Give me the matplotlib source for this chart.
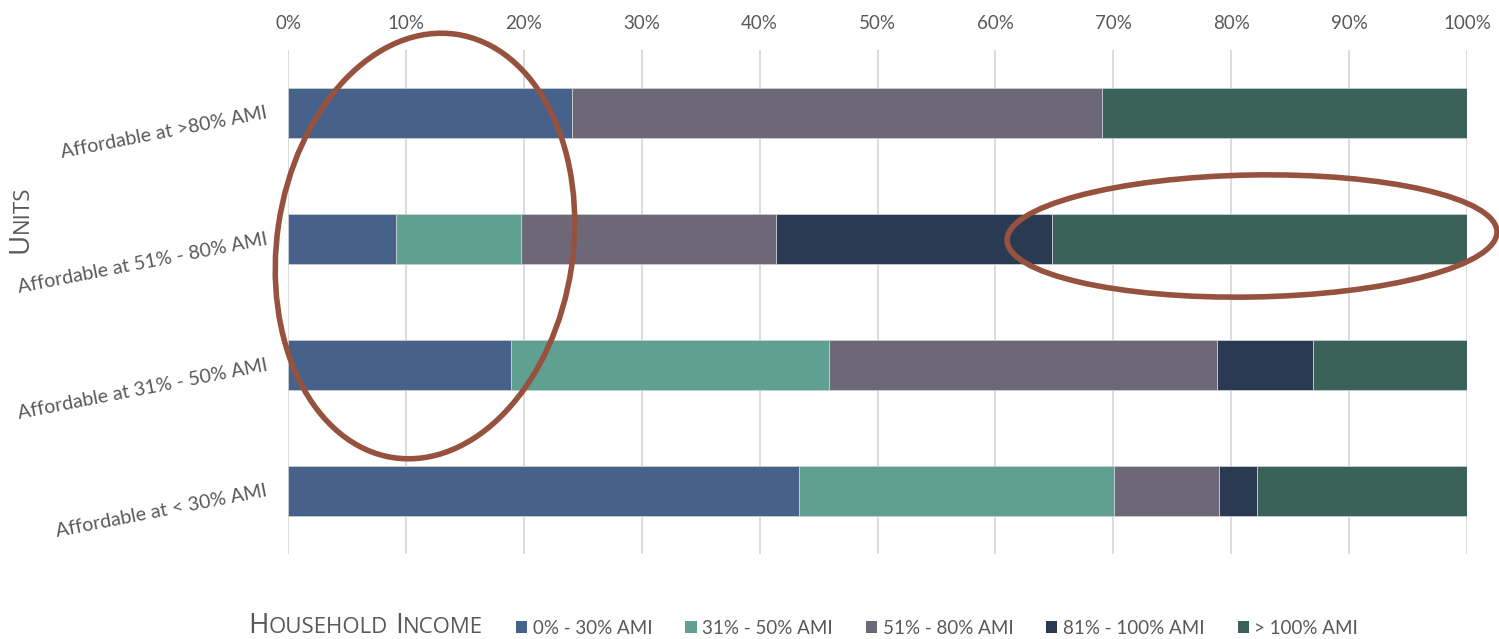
import matplotlib
matplotlib.use("Agg")
import matplotlib.pyplot as plt
from matplotlib.patches import Ellipse, Patch
from matplotlib.transforms import IdentityTransform
import numpy as np

plt.rcParams['font.family'] = ['Lato', 'DejaVu Sans']

# rows bottom -> top
categories = ["Affordable at < 30% AMI", "Affordable at 31% - 50% AMI",
              "Affordable at 51% - 80% AMI", "Affordable at >80% AMI"]
series_names = ["0% - 30% AMI", "31% - 50% AMI", "51% - 80% AMI",
                "81% - 100% AMI", "> 100% AMI"]
inc_0_30 = [43.3, 18.9, 9.2, 24.1]
inc_31_50 = [26.8, 27.0, 10.6, 0.0]
inc_51_80 = [8.9, 32.9, 21.6, 44.9]
inc_81_100 = [3.2, 8.1, 23.4, 0.0]
inc_100_plus = [17.8, 13.1, 35.2, 31.0]
xticks = [0, 10, 20, 30, 40, 50, 60, 70, 80, 90, 100]

colors = ["#46628A", "#5FA093", "#6C6878", "#2A3A53", "#3A6258"]
txt_col = "#595959"
ring_col = "#96523F"

W, H = 1499, 639
fig = plt.figure(figsize=(W/100, H/100), dpi=100)
ax = fig.add_axes([288/W, 1-554/H, (1467-288)/W, (554-50)/H])

y = np.arange(len(categories))
left = np.zeros(len(categories))
for vals, c, name in zip([inc_0_30, inc_31_50, inc_51_80, inc_81_100, inc_100_plus], colors, series_names):
    vals = np.array(vals)
    ax.barh(y, vals, left=left, height=0.4, color=c, edgecolor="#c9cdd3", linewidth=0.6, zorder=3, label=name)
    left += vals

ax.set_xlim(0, 100)
ax.set_ylim(-0.5, 3.5)
ax.set_xticks(xticks)
ax.set_xticklabels([f"{t}%" for t in xticks])
ax.xaxis.tick_top()
ax.set_yticks(y)
ax.set_yticklabels(categories, rotation=11, rotation_mode="anchor", ha="right", va="center")
ax.tick_params(axis="x", length=0, pad=13, labelsize=13.5, colors=txt_col)
ax.tick_params(axis="y", length=0, pad=15, labelsize=14, colors=txt_col)
ax.grid(axis="x", color="#D9D9D9", linewidth=1.3, zorder=0)
for s in ax.spines.values():
    s.set_visible(False)

# red rings drawn on top, in pixel units
ov = fig.add_axes([0, 0, 1, 1])
ov.set_xlim(0, W)
ov.set_ylim(H, 0)
ov.axis("off")
ov.patch.set_alpha(0)
ov.add_patch(Ellipse((425, 246), 296, 428, angle=8.5, fill=False, edgecolor=ring_col, linewidth=4))
ov.add_patch(Ellipse((1252, 236), 490, 122, angle=-1, fill=False, edgecolor=ring_col, linewidth=4))


def small_caps(x, y, parts, rotation=0, gap=8):
    r = fig.canvas.get_renderer()
    for txt, size in parts:
        if txt == " ":
            if rotation == 0:
                x += gap
            else:
                y += gap
            continue
        t = fig.text(x, y, txt, fontsize=size, rotation=rotation, color=txt_col,
                     ha="left", va="baseline", rotation_mode="anchor",
                     family=["Open Sans", "DejaVu Sans"],
                     transform=IdentityTransform())
        bb = t.get_window_extent(r)
        if rotation == 0:
            x += bb.width
        else:
            y += bb.height


small_caps(28, H - 253, [("U", 20), ("NITS", 16)], rotation=90)
small_caps(248, 6, [("H", 20), ("OUSEHOLD", 16), (" ", 0), ("I", 20), ("NCOME", 16)], gap=7)

handles = [Patch(facecolor=c) for c in colors]
fig.legend(handles, series_names, loc="center left", bbox_to_anchor=(516/W, 1-628/H),
           ncol=5, frameon=False, fontsize=13.5, labelcolor=txt_col, borderpad=0,
           borderaxespad=0, handlelength=0.6, handleheight=0.6, handletextpad=0.3,
           columnspacing=1.75)

fig.savefig("out.png", dpi=100)
